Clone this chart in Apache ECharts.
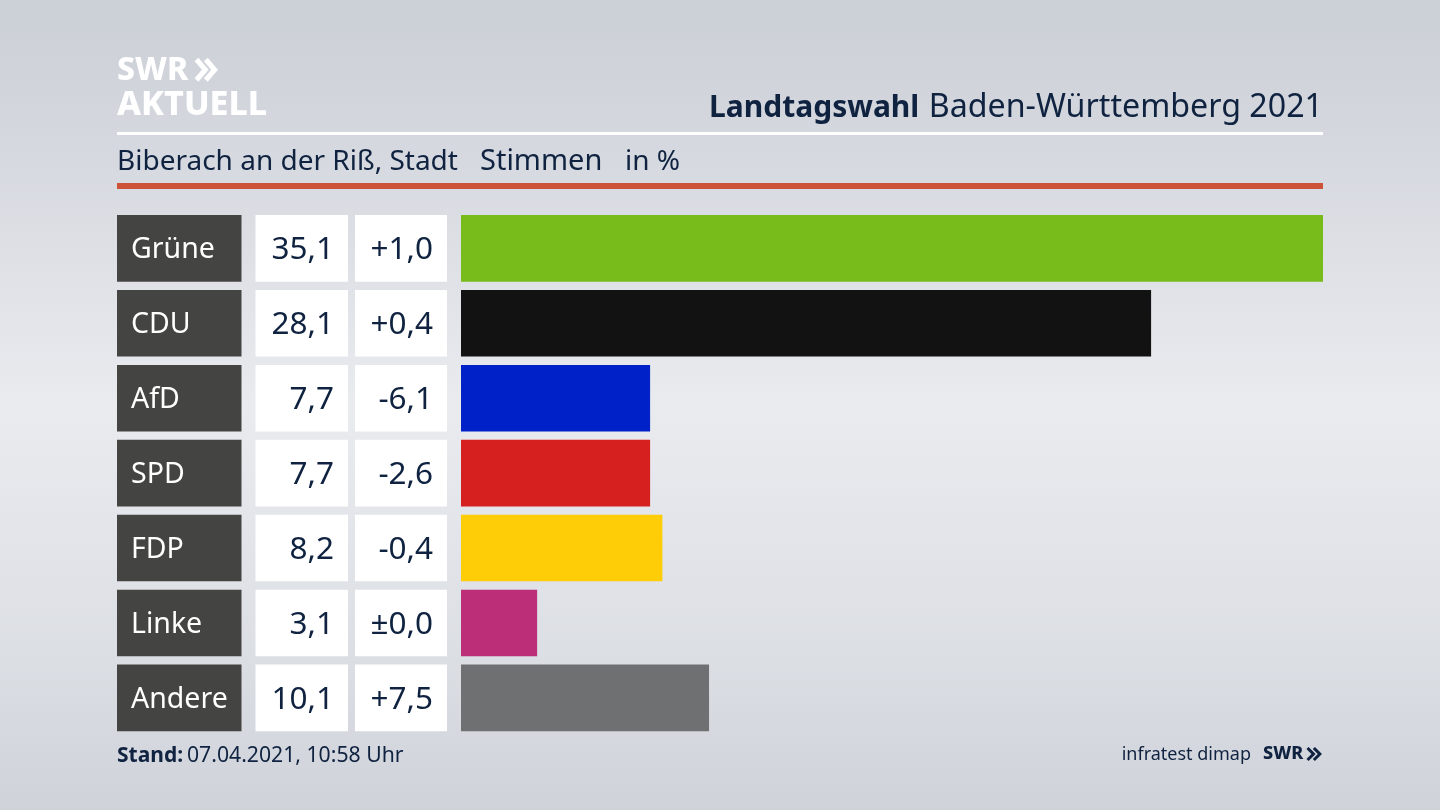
<!DOCTYPE html>
<html><head><meta charset="utf-8">
<style>html,body{margin:0;padding:0;width:1440px;height:810px;overflow:hidden}#c{width:1440px;height:810px}</style>
<script src="https://cdn.jsdelivr.net/npm/echarts@6/dist/echarts.min.js"></script>
</head><body><div id="c"></div>
<script>
const parties = ['Grüne','CDU','AfD','SPD','FDP','Linke','Andere'];
const shares = [35.1,28.1,7.7,7.7,8.2,3.1,10.1];
const changes = ['+1,0','+0,4','-6,1','-2,6','-0,4','±0,0','+7,5'];
const barColors = ['#78bc1b','#121212','#0021c8','#d61f1f','#ffcc08','#bc2f78','#6f7072'];
const ink = '#0f2240';
const font = '"Noto Sans", sans-serif';
const fmt = v => v.toFixed(1).replace('.', ',');

const gridTop = 210.9, rowsH = 524.4, barH = 66.6;
const grid = (left, right) => ({left, width: right-left, top: gridTop, height: rowsH});
const grids = [grid(117,241.5), grid(255.5,348), grid(355,447), grid(461,1323)];
const xAxis = grids.map((g,i)=>({gridIndex:i,type:'value',min:0,max:i===3?35.1:1,show:false}));
const yAxis = grids.map((g,i)=>({gridIndex:i,type:'category',data:parties,inverse:true,show:false}));
const cell = (i,color,name,text,pos,pad,size) => ({
  type:'bar',name,xAxisIndex:i,yAxisIndex:i,barWidth:barH,silent:true,
  data:parties.map(()=>1),itemStyle:{color},
  label:{show:true,position:pos,distance:0,padding:pad,offset:[0,2],formatter:p=>text[p.dataIndex],
    color:color==='#fff'?ink:'#fff',fontFamily:font,fontSize:size,fontWeight:400}
});
const chevrons = (x,y,h,w,color,lw) => [0,1].map(k=>({
  type:'polyline',shape:{points:[[x+k*w*0.85,y],[x+k*w*0.85+w*0.8,y+h/2],[x+k*w*0.85,y+h]]},
  style:{stroke:color,lineWidth:lw,fill:null}
}));
const txt = (x,y,text,o={}) => ({type:'text',x,y,style:Object.assign({text,fill:ink,font:`400 30px ${font}`,verticalAlign:'middle'},o)});

const chart = echarts.init(document.getElementById('c'),null,{renderer:'canvas'});
chart.setOption({
  animation:false,
  backgroundColor:new echarts.graphic.LinearGradient(0,0,0,1,[
    {offset:0,color:'#cbcfd6'},{offset:0.2,color:'#d6d9df'},{offset:0.5,color:'#e9ebef'},
    {offset:0.8,color:'#dcdfe4'},{offset:1,color:'#cfd2d9'}]),
  grid:grids,xAxis,yAxis,
  series:[
    cell(0,'#444442','Partei',parties,'insideLeft',[4,0,0,14],28.5),
    cell(1,'#fff','Stimmen',shares.map(fmt),'insideRight',[4,14,0,0],31.5),
    cell(2,'#fff','Differenz',changes,'insideRight',[4,14,0,0],31.5),
    {type:'bar',name:'Balken',xAxisIndex:3,yAxisIndex:3,barWidth:barH,silent:true,
     data:shares.map((v,i)=>({value:v,itemStyle:{color:barColors[i]}}))}
  ],
  graphic:[
    {type:'rect',shape:{x:117,y:132,width:1206,height:3},style:{fill:'#fff'}},
    {type:'rect',shape:{x:117,y:183,width:1206,height:6},style:{fill:'#cc5238'}},
    txt(117,71,'SWR',{fill:'#fff',font:`800 32px ${font}`}),
    txt(117,105,'AKTUELL',{fill:'#fff',font:`800 34px ${font}`}),
    ...chevrons(196.5,59.5,20.5,11,'#fff',5),
    txt(709,108,'Landtagswahl',{font:`700 30px ${font}`}),
    {type:'text',x:1323,y:108,style:{text:'Baden-Württemberg 2021',align:'right',verticalAlign:'middle',font:`400 32.2px ${font}`,fill:ink}},
    txt(117,162,'Biberach an der Riß, Stadt',{font:`400 28px ${font}`}),
    txt(480,162,'Stimmen',{font:`400 29px ${font}`}),
    txt(625,162,'in %',{font:`400 28px ${font}`}),
    txt(117,756,'Stand:',{font:`700 21px ${font}`}),
    txt(187,756,'07.04.2021, 10:58 Uhr',{font:`400 21.2px ${font}`}),
    {type:'text',x:1251,y:755,style:{text:'infratest dimap',align:'right',verticalAlign:'middle',font:`400 18px ${font}`,fill:ink}},
    {type:'text',x:1263,y:754,style:{text:'SWR',verticalAlign:'middle',font:`800 18px ${font}`,fill:ink}},
    ...chevrons(1307.5,748,12,7.5,ink,3)
  ]
});
</script></body></html>
